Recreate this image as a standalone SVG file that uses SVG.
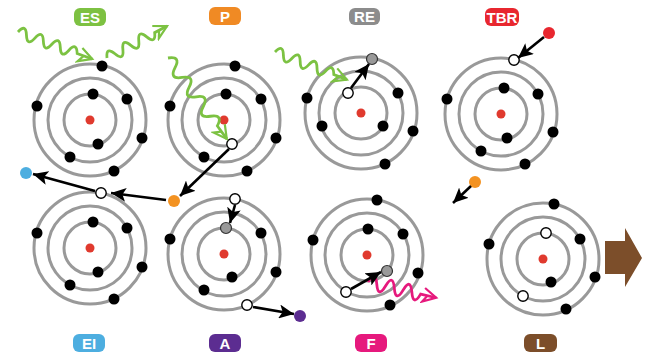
<svg xmlns="http://www.w3.org/2000/svg" width="646" height="354" viewBox="0 0 646 354">
  <style>
    .ring { fill: none; stroke: #999999; stroke-width: 3; }
    .nuc { fill: #e03a2e; }
    .e { fill: #000000; }
    .hole { fill: #ffffff; stroke: #000000; stroke-width: 1.4; }
    .grey { fill: #999999; stroke: #333333; stroke-width: 1.2; }
    .tag { stroke: none; }
    .tag-text { font-family: "Liberation Sans", Arial, sans-serif; font-weight: bold; font-size: 15px; fill: #ffffff; text-anchor: middle; }
    .arrow { stroke: #000000; stroke-width: 2.6; fill: none; marker-end: url(#head); }
    .wave-g { stroke: #7cc242; stroke-width: 2.8; fill: none; marker-end: url(#open-g); }
    .wave-p { stroke: #e6197d; stroke-width: 2.8; fill: none; marker-end: url(#open-p); }
  </style>
  <defs>
    <marker id="head" markerUnits="userSpaceOnUse" markerWidth="16" markerHeight="14" refX="15" refY="7" orient="auto">
      <path d="M0,0 L15,7 L0,14 L3.5,7 Z" fill="#000000"/>
    </marker>
    <marker id="open-g" markerUnits="userSpaceOnUse" markerWidth="18" markerHeight="18" refX="15" refY="9" orient="auto">
      <path d="M2,2 L15,9 L2,16 L6,9" fill="none" stroke="#7cc242" stroke-width="2.2" stroke-linejoin="miter"/>
    </marker>
    <marker id="open-p" markerUnits="userSpaceOnUse" markerWidth="18" markerHeight="18" refX="15" refY="9" orient="auto">
      <path d="M2,2 L15,9 L2,16 L6,9" fill="none" stroke="#e6197d" stroke-width="2.2" stroke-linejoin="miter"/>
    </marker>
    <!-- shell structure shared by every atom -->
    <g id="shells">
      <circle class="ring" r="56"/>
      <circle class="ring" r="42"/>
      <circle class="ring" r="26"/>
      <circle class="nuc" r="4.5"/>
    </g>
  </defs>

  <!-- ES -->
  <g id="atom-es">
    <use href="#shells" x="90" y="120"/>
    <circle class="e" cx="102" cy="66" r="5.5"/>
    <circle class="e" cx="37" cy="106" r="5.5"/>
    <circle class="e" cx="142" cy="138" r="5.5"/>
    <circle class="e" cx="114" cy="171" r="5.5"/>
    <circle class="e" cx="93" cy="94" r="5.5"/>
    <circle class="e" cx="98" cy="144" r="5.5"/>
    <circle class="e" cx="127" cy="99" r="5.5"/>
    <circle class="e" cx="70" cy="157" r="5.5"/>
    <rect class="tag" x="74" y="8" width="32" height="18" rx="6" fill="#7dc142"/>
    <text class="tag-text" x="90" y="22.5">ES</text>
  </g>

  <!-- P -->
  <g id="atom-p">
    <use href="#shells" x="224" y="120"/>
    <circle class="e" cx="235" cy="66" r="5.5"/>
    <circle class="e" cx="170" cy="106" r="5.5"/>
    <circle class="e" cx="276" cy="138" r="5.5"/>
    <circle class="e" cx="247" cy="171" r="5.5"/>
    <circle class="e" cx="226" cy="94" r="5.5"/>
    <circle class="e" cx="261" cy="99" r="5.5"/>
    <circle class="e" cx="204" cy="157" r="5.5"/>
    <circle class="hole" cx="232" cy="144" r="5.2"/>
    <rect class="tag" x="209" y="7" width="32" height="18" rx="6" fill="#f08a24"/>
    <text class="tag-text" x="225" y="21.5">P</text>
  </g>

  <!-- RE -->
  <g id="atom-re">
    <use href="#shells" x="361" y="113"/>
    <circle class="grey" cx="372" cy="59" r="5.5"/>
    <circle class="hole" cx="348" cy="93" r="5.2"/>
    <circle class="e" cx="307" cy="98" r="5.5"/>
    <circle class="e" cx="398" cy="93" r="5.5"/>
    <circle class="e" cx="322" cy="126" r="5.5"/>
    <circle class="e" cx="383" cy="126" r="5.5"/>
    <circle class="e" cx="413" cy="131" r="5.5"/>
    <circle class="e" cx="385" cy="164" r="5.5"/>
    <rect class="tag" x="349" y="8" width="31" height="17" rx="6" fill="#8c8c8c" stroke="#555555" stroke-width="1.2"/>
    <text class="tag-text" x="364.5" y="22">RE</text>
  </g>

  <!-- TBR -->
  <g id="atom-tbr">
    <use href="#shells" x="501" y="114"/>
    <circle class="hole" cx="514" cy="60" r="5.2"/>
    <circle class="e" cx="447" cy="99" r="5.5"/>
    <circle class="e" cx="504" cy="88" r="5.5"/>
    <circle class="e" cx="538" cy="94" r="5.5"/>
    <circle class="e" cx="507" cy="138" r="5.5"/>
    <circle class="e" cx="553" cy="132" r="5.5"/>
    <circle class="e" cx="481" cy="151" r="5.5"/>
    <circle class="e" cx="525" cy="164" r="5.5"/>
    <rect class="tag" x="485" y="8" width="34" height="18" rx="6" fill="#e8272f"/>
    <text class="tag-text" x="502" y="22.5">TBR</text>
  </g>

  <!-- EI -->
  <g id="atom-ei">
    <use href="#shells" x="90" y="248"/>
    <circle class="hole" cx="101" cy="193" r="5.2"/>
    <circle class="e" cx="37" cy="233" r="5.5"/>
    <circle class="e" cx="93" cy="222" r="5.5"/>
    <circle class="e" cx="127" cy="228" r="5.5"/>
    <circle class="e" cx="98" cy="272" r="5.5"/>
    <circle class="e" cx="142" cy="267" r="5.5"/>
    <circle class="e" cx="70" cy="285" r="5.5"/>
    <circle class="e" cx="114" cy="299" r="5.5"/>
    <rect class="tag" x="73" y="334" width="32" height="18" rx="6" fill="#4daee0"/>
    <text class="tag-text" x="89" y="348.5">EI</text>
  </g>

  <!-- A -->
  <g id="atom-a">
    <use href="#shells" x="224" y="254"/>
    <circle class="hole" cx="235" cy="199" r="5.2"/>
    <circle class="grey" cx="226" cy="228" r="5.5"/>
    <circle class="e" cx="170" cy="239" r="5.5"/>
    <circle class="e" cx="261" cy="233" r="5.5"/>
    <circle class="e" cx="276" cy="272" r="5.5"/>
    <circle class="e" cx="232" cy="277" r="5.5"/>
    <circle class="e" cx="204" cy="290" r="5.5"/>
    <circle class="hole" cx="247" cy="305" r="5.2"/>
    <rect class="tag" x="209" y="334" width="32" height="18" rx="6" fill="#5c2d91"/>
    <text class="tag-text" x="225" y="348.5">A</text>
  </g>

  <!-- F -->
  <g id="atom-f">
    <use href="#shells" x="367" y="255"/>
    <circle class="e" cx="377" cy="200" r="5.5"/>
    <circle class="e" cx="313" cy="240" r="5.5"/>
    <circle class="e" cx="368" cy="229" r="5.5"/>
    <circle class="e" cx="403" cy="234" r="5.5"/>
    <circle class="grey" cx="387" cy="271" r="5.5"/>
    <circle class="e" cx="418" cy="273" r="5.5"/>
    <circle class="hole" cx="346" cy="292" r="5.2"/>
    <circle class="e" cx="390" cy="305" r="5.5"/>
    <rect class="tag" x="355" y="334" width="32" height="18" rx="6" fill="#e6197d"/>
    <text class="tag-text" x="371" y="348.5">F</text>
  </g>

  <!-- L -->
  <g id="atom-l">
    <use href="#shells" x="543" y="259"/>
    <circle class="e" cx="554" cy="204" r="5.5"/>
    <circle class="e" cx="489" cy="244" r="5.5"/>
    <circle class="hole" cx="546" cy="233" r="5.2"/>
    <circle class="e" cx="580" cy="239" r="5.5"/>
    <circle class="e" cx="595" cy="277" r="5.5"/>
    <circle class="e" cx="551" cy="282" r="5.5"/>
    <circle class="hole" cx="523" cy="296" r="5.2"/>
    <circle class="e" cx="566" cy="309" r="5.5"/>
    <rect class="tag" x="524" y="334" width="33" height="18" rx="6" fill="#7c4e2a"/>
    <text class="tag-text" x="540.5" y="348.5">L</text>
  </g>

  <!-- free particles -->
  <g id="particles">
    <circle cx="174" cy="201" r="6" fill="#f39221"/>
    <circle cx="26" cy="173" r="6" fill="#4daee0"/>
    <circle cx="549" cy="33" r="6" fill="#e8272f"/>
    <circle cx="300" cy="316" r="6" fill="#5c2d91"/>
    <circle cx="475" cy="182" r="6" fill="#f39221"/>
  </g>

  <g id="connectors">
    <!-- photons -->
    <path class="wave-g" transform="translate(18,32) rotate(20)" d="M0,0 q4.5,-11 9,0 t9,0 t9,0 t9,0 t9,0 t9,0 t9,0 l16,0"/>
    <path class="wave-g" transform="translate(107,58) rotate(-28)" d="M0,0 q4.5,-11 9,0 t9,0 t9,0 t9,0 t9,0 t9,0 l14,0"/>
    <path class="wave-g" transform="translate(168,58) rotate(54)" d="M0,0 q6,-12 12,0 t12,0 t12,0 t12,0 t12,0 t12,0 t12,0 l16,0"/>
    <path class="wave-g" transform="translate(275,52) rotate(21)" d="M0,0 q4.5,-11 9,0 t9,0 t9,0 t9,0 t9,0 t9,0 t9,0 l14,0"/>
    <path class="wave-p" transform="translate(368,282) rotate(13)" d="M0,0 q4.5,-14 9,0 t9,0 t9,0 t9,0 t9,0 t9,0 l16,0"/>
    <!-- particle and electron moves -->
    <line class="arrow" x1="229" y1="149" x2="180" y2="196"/>
    <line class="arrow" x1="166" y1="200" x2="111" y2="193"/>
    <line class="arrow" x1="95" y1="191" x2="33" y2="174"/>
    <line class="arrow" x1="544" y1="37" x2="518" y2="58"/>
    <line class="arrow" x1="351" y1="88" x2="369" y2="64"/>
    <line class="arrow" x1="235" y1="205" x2="230" y2="223"/>
    <line class="arrow" x1="253" y1="307" x2="294" y2="314"/>
    <line class="arrow" x1="351" y1="289" x2="381" y2="272"/>
    <line class="arrow" x1="471" y1="186" x2="453" y2="203"/>
  </g>

  <!-- continuation arrow -->
  <polygon id="next" points="605,241 625,241 625,228 642,258 625,287 625,274 605,274" fill="#7c4e2a"/>
</svg>
